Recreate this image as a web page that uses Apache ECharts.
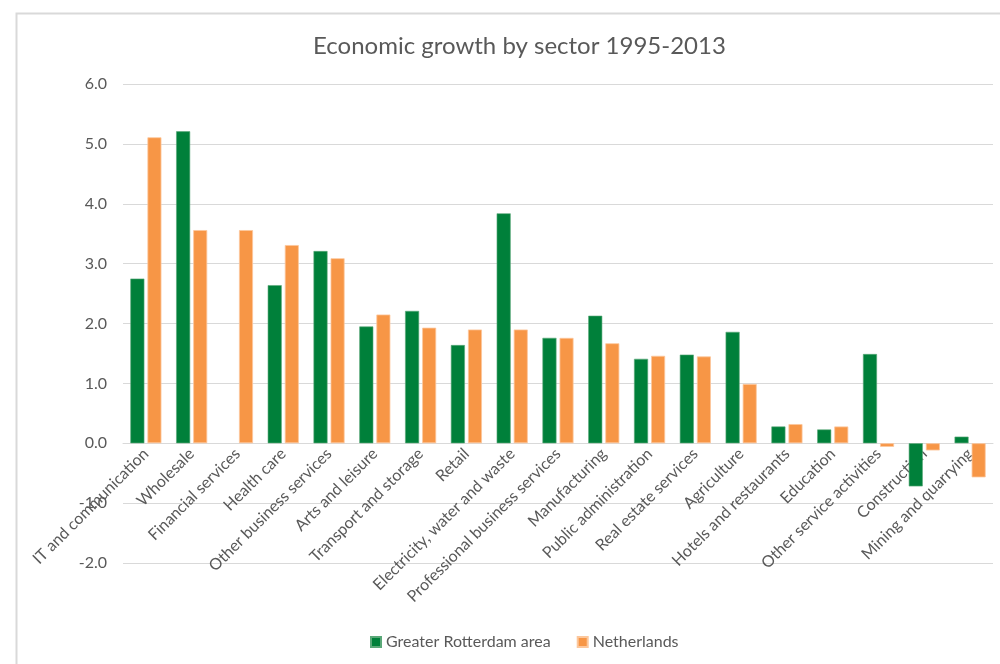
<!DOCTYPE html>
<html>
<head>
<meta charset="utf-8">
<script src="https://cdn.jsdelivr.net/npm/echarts@6/dist/echarts.min.js"></script>
<style>
  html, body { margin: 0; padding: 0; background: #ffffff; }
  #chart { width: 1000px; height: 664px; }
</style>
</head>
<body>
<div id="chart"></div>
<script>
// Sectors, ordered as on the category axis
const sectors = [
  'IT and communication', 'Wholesale', 'Financial services', 'Health care',
  'Other business services', 'Arts and leisure', 'Transport and storage', 'Retail',
  'Electricity, water and waste', 'Professional business services', 'Manufacturing',
  'Public administration', 'Real estate services', 'Agriculture',
  'Hotels and restaurants', 'Education', 'Other service activities',
  'Construction', 'Mining and quarrying'
];

// Average annual growth (%) per sector
const rotterdam = [2.75, 5.21, null, 2.64, 3.21, 1.95, 2.21, 1.64, 3.84, 1.76,
                   2.13, 1.41, 1.48, 1.86, 0.28, 0.23, 1.49, -0.72, 0.11];
const netherlands = [5.11, 3.56, 3.56, 3.31, 3.09, 2.15, 1.93, 1.90, 1.90, 1.76,
                     1.67, 1.46, 1.45, 0.99, 0.32, 0.28, -0.06, -0.12, -0.57];

const seriesNames = ['Greater Rotterdam area', 'Netherlands'];
const yTicks = { min: -2, max: 6, interval: 1 };

const FONT = 'Lato, "Open Sans", sans-serif';
const TEXT = '#595959';

const GRID = { left: 123, right: 7, top: 84, bottom: 101 };
const chartHeight = 664;

const chart = echarts.init(document.getElementById('chart'), null, { renderer: 'canvas' });

// Lift the category axis (line and labels) up to the value 0 crossing
const plotH = chartHeight - GRID.top - GRID.bottom;
const zeroOffset = -plotH * (0 - yTicks.min) / (yTicks.max - yTicks.min);

chart.setOption({
  backgroundColor: '#ffffff',
  animation: false,
  title: {
    text: 'Economic growth by sector 1995-2013',
    left: 308,
    top: 29,
    textStyle: { fontFamily: FONT, fontSize: 24, fontWeight: 'normal', color: TEXT }
  },
  legend: {
    bottom: 9,
    left: 365,
    itemWidth: 10,
    itemHeight: 10,
    itemGap: 26,
    icon: 'rect',
    textStyle: { fontFamily: FONT, fontSize: 16, color: TEXT }
  },
  grid: { left: GRID.left, right: GRID.right, top: GRID.top, bottom: GRID.bottom, containLabel: false },
  xAxis: {
    type: 'category',
    data: sectors,
    offset: zeroOffset,
    axisLine: { onZero: false, lineStyle: { color: '#d9d9d9', width: 1 } },
    axisTick: { show: false },
    axisLabel: {
      interval: 0,
      rotate: 45,
      margin: 8,
      fontFamily: FONT,
      fontSize: 16,
      color: TEXT
    }
  },
  yAxis: {
    type: 'value',
    min: yTicks.min,
    max: yTicks.max,
    interval: yTicks.interval,
    axisLine: { show: false },
    axisTick: { show: false },
    splitLine: { lineStyle: { color: '#d9d9d9', width: 1 } },
    axisLabel: {
      margin: 16,
      fontFamily: FONT,
      fontSize: 16,
      color: TEXT,
      formatter: v => v.toFixed(1)
    }
  },
  series: [
    {
      name: seriesNames[0],
      type: 'bar',
      data: rotterdam,
      barWidth: 14,
      barGap: '22%',
      itemStyle: { color: '#00803a', borderColor: '#5aa878', borderWidth: 0.6 }
    },
    {
      name: seriesNames[1],
      type: 'bar',
      data: netherlands,
      barWidth: 14,
      itemStyle: { color: '#f79646', borderColor: '#fcc79c', borderWidth: 0.8 }
    }
  ],
  graphic: [
    {
      type: 'rect',
      shape: { x: 16.5, y: 13.5, width: 1200, height: 1000 },
      style: { fill: 'none', stroke: '#d9d9d9', lineWidth: 2 },
      silent: true,
      z: -1
    }
  ]
});
</script>
</body>
</html>
